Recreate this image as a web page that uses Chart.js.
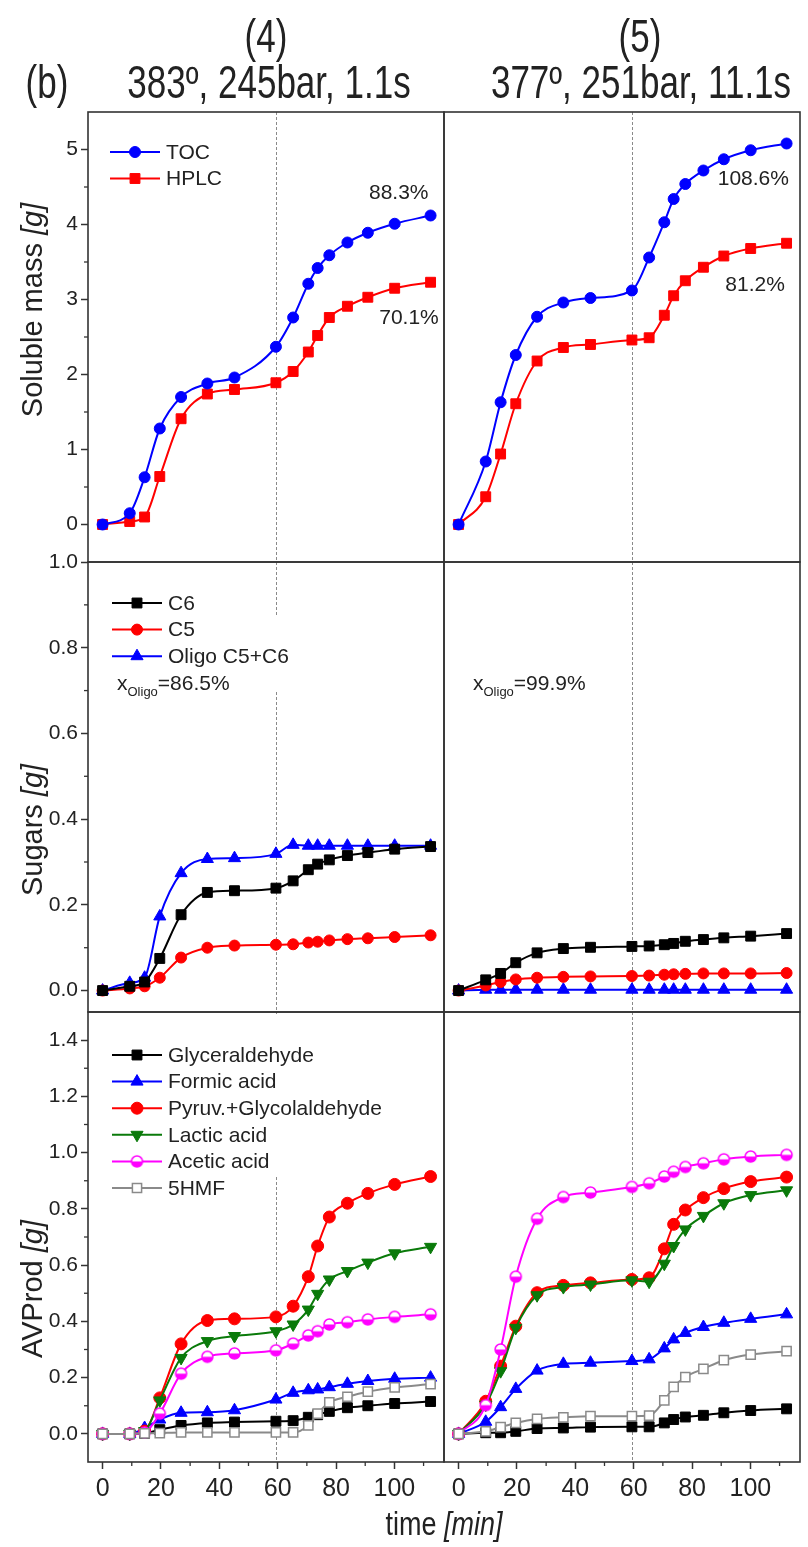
<!DOCTYPE html>
<html><head><meta charset="utf-8">
<script src="https://cdn.jsdelivr.net/npm/chart.js@4.4.1/dist/chart.umd.min.js"></script>
<style>html,body{margin:0;padding:0;background:#fff;}#wrap{width:808px;height:1547px;position:relative;}canvas{display:block;}</style>
</head><body><div id="wrap"><canvas id="c" width="808" height="1547"></canvas></div>
<script>
// ---------------- DATA ----------------
const times = [0, 9.3, 14.4, 19.6, 26.9, 35.9, 45.2, 59.4, 65.3, 70.5, 73.7, 77.7, 83.9, 90.9, 100.1, 112.4];
const dashTime = 59.5;
const panelTitles = ['(4)', '(5)'];
const panelConditions = ['383º, 245bar, 1.1s', '377º, 251bar, 11.1s'];
const xTicks = [0, 20, 40, 60, 80, 100];
const massTicks = [0, 1, 2, 3, 4, 5];
const sugarTicks = [0, 0.2, 0.4, 0.6, 0.8, 1.0];
const prodTicks = [0, 0.2, 0.4, 0.6, 0.8, 1.0, 1.2, 1.4];

// Soluble mass [g]
const tocMass4  = [0, 0.15, 0.63, 1.28, 1.70, 1.88, 1.96, 2.37, 2.76, 3.21, 3.42, 3.59, 3.76, 3.89, 4.01, 4.12];
const hplcMass4 = [0, 0.04, 0.10, 0.64, 1.41, 1.74, 1.80, 1.89, 2.04, 2.30, 2.52, 2.76, 2.91, 3.03, 3.15, 3.23];
const tocMass5  = [0, 0.84, 1.63, 2.26, 2.77, 2.96, 3.02, 3.12, 3.56, 4.03, 4.34, 4.54, 4.72, 4.87, 4.99, 5.08];
const hplcMass5 = [0, 0.37, 0.94, 1.61, 2.18, 2.36, 2.40, 2.46, 2.49, 2.79, 3.05, 3.25, 3.43, 3.58, 3.68, 3.75];
const massLabels4 = ['88.3%', '70.1%'];
const massLabels5 = ['108.6%', '81.2%'];

// Sugars [g]
const c6Sug4    = [0, 0.010, 0.020, 0.075, 0.177, 0.229, 0.233, 0.239, 0.256, 0.282, 0.295, 0.305, 0.315, 0.322, 0.330, 0.336];
const c5Sug4    = [0, 0.005, 0.010, 0.030, 0.077, 0.100, 0.105, 0.107, 0.108, 0.112, 0.114, 0.117, 0.120, 0.122, 0.125, 0.129];
const oligoSug4 = [0, 0.018, 0.030, 0.173, 0.274, 0.307, 0.309, 0.319, 0.340, 0.338, 0.338, 0.338, 0.338, 0.338, 0.338, 0.338];
const c6Sug5    = [0, 0.025, 0.040, 0.065, 0.088, 0.098, 0.101, 0.103, 0.104, 0.107, 0.110, 0.115, 0.119, 0.123, 0.127, 0.133];
const c5Sug5    = [0, 0.012, 0.020, 0.026, 0.030, 0.032, 0.033, 0.034, 0.035, 0.037, 0.038, 0.039, 0.040, 0.040, 0.040, 0.041];
const oligoSug5 = [0, 0.002, 0.002, 0.002, 0.002, 0.002, 0.002, 0.002, 0.002, 0.002, 0.002, 0.002, 0.002, 0.002, 0.002, 0.002];
const xOligo = ['86.5%', '99.9%'];

// AVProd [g]
const glyc4   = [0, 0, 0.002, 0.015, 0.030, 0.039, 0.042, 0.045, 0.047, 0.059, 0.068, 0.080, 0.093, 0.100, 0.108, 0.115];
const formic4 = [0, 0, 0.021, 0.051, 0.075, 0.077, 0.084, 0.122, 0.146, 0.155, 0.158, 0.166, 0.178, 0.188, 0.196, 0.200];
const pyruv4  = [0, 0, 0.010, 0.128, 0.320, 0.403, 0.409, 0.416, 0.454, 0.559, 0.668, 0.771, 0.820, 0.855, 0.887, 0.915];
const lactic4 = [0, 0, 0.010, 0.119, 0.270, 0.330, 0.348, 0.365, 0.389, 0.442, 0.498, 0.549, 0.579, 0.609, 0.642, 0.665];
const acetic4 = [0, 0, 0.005, 0.072, 0.214, 0.274, 0.286, 0.297, 0.321, 0.350, 0.365, 0.389, 0.397, 0.407, 0.416, 0.425];
const hmf4    = [0, 0, 0.002, 0.003, 0.005, 0.005, 0.005, 0.005, 0.005, 0.030, 0.072, 0.112, 0.132, 0.150, 0.165, 0.177];
const glyc5   = [0, 0.004, 0.004, 0.009, 0.019, 0.021, 0.024, 0.025, 0.025, 0.039, 0.051, 0.060, 0.066, 0.075, 0.083, 0.089];
const formic5 = [0, 0.043, 0.095, 0.160, 0.225, 0.249, 0.253, 0.259, 0.265, 0.304, 0.336, 0.359, 0.380, 0.395, 0.409, 0.425];
const pyruv5  = [0, 0.116, 0.241, 0.383, 0.502, 0.528, 0.537, 0.549, 0.555, 0.658, 0.745, 0.796, 0.840, 0.872, 0.897, 0.913];
const lactic5 = [0, 0.104, 0.223, 0.377, 0.493, 0.522, 0.531, 0.546, 0.541, 0.605, 0.668, 0.727, 0.775, 0.820, 0.849, 0.866];
const acetic5 = [0, 0.102, 0.300, 0.559, 0.765, 0.842, 0.858, 0.878, 0.891, 0.915, 0.932, 0.949, 0.962, 0.976, 0.986, 0.992];
const hmf5    = [0, 0.009, 0.024, 0.039, 0.053, 0.059, 0.063, 0.063, 0.065, 0.119, 0.167, 0.202, 0.231, 0.262, 0.282, 0.294];

// ---------------- STYLES ----------------
const FONT = "'Liberation Sans', Arial, sans-serif";
const COL = {blue:'#0000ff', red:'#ff0000', black:'#000000', green:'#0a7a0a', magenta:'#ff00ff', grey:'#8a8a8a', axis:'#333333'};

function halfCircle(color){
  const c = document.createElement('canvas'); c.width = 15; c.height = 15;
  const g = c.getContext('2d');
  g.beginPath(); g.arc(7.5,7.5,5.5,0,2*Math.PI); g.fillStyle='#fff'; g.fill();
  g.beginPath(); g.arc(7.5,7.5,5.5,0,Math.PI); g.closePath(); g.fillStyle=color; g.fill();
  g.beginPath(); g.arc(7.5,7.5,5.5,0,2*Math.PI); g.strokeStyle=color; g.lineWidth=1.5; g.stroke();
  return c;
}
const aceticMarker = halfCircle(COL.magenta);

const ST = {
  toc:    {c:COL.blue,    style:'circle',   r:5.5},
  hplc:   {c:COL.red,     style:'rect',     r:7},
  c6:     {c:COL.black,   style:'rect',     r:7},
  c5:     {c:COL.red,     style:'circle',   r:5.5},
  oligo:  {c:COL.blue,    style:'triangle', r:7},
  glyc:   {c:COL.black,   style:'rect',     r:7},
  formic: {c:COL.blue,    style:'triangle', r:7},
  pyruv:  {c:COL.red,     style:'circle',   r:6},
  lactic: {c:COL.green,   style:'triangle', r:7, rot:180},
  acetic: {c:COL.magenta, style:aceticMarker, r:6},
  hmf:    {c:COL.grey,    style:'rect',     r:6.5, fill:'#ffffff'}
};

function series(vals){ return times.map((t,i)=>({x:t, y:vals[i]})); }
function ds(label, vals, key, xid, yid){
  const s = ST[key];
  return {
    label, data: series(vals), xAxisID: xid, yAxisID: yid,
    borderColor: s.c, borderWidth: 2, cubicInterpolationMode: 'monotone',
    pointStyle: s.style, pointRadius: s.r, pointRotation: s.rot || 0,
    pointBackgroundColor: s.fill || s.c, pointBorderColor: s.c, pointBorderWidth: s.fill ? 1.5 : 1,
    fill: false, clip: false
  };
}

const datasets = [
  ds('TOC', tocMass4, 'toc', 'x4', 'yMass'),
  ds('HPLC', hplcMass4, 'hplc', 'x4', 'yMass'),
  ds('TOC', tocMass5, 'toc', 'x5', 'yMass'),
  ds('HPLC', hplcMass5, 'hplc', 'x5', 'yMass'),
  ds('C6', c6Sug4, 'c6', 'x4', 'ySug'),
  ds('C5', c5Sug4, 'c5', 'x4', 'ySug'),
  ds('Oligo C5+C6', oligoSug4, 'oligo', 'x4', 'ySug'),
  ds('C6', c6Sug5, 'c6', 'x5', 'ySug'),
  ds('C5', c5Sug5, 'c5', 'x5', 'ySug'),
  ds('Oligo C5+C6', oligoSug5, 'oligo', 'x5', 'ySug'),
  ds('5HMF', hmf4, 'hmf', 'x4', 'yProd'),
  ds('Acetic acid', acetic4, 'acetic', 'x4', 'yProd'),
  ds('Lactic acid', lactic4, 'lactic', 'x4', 'yProd'),
  ds('Pyruv.+Glycolaldehyde', pyruv4, 'pyruv', 'x4', 'yProd'),
  ds('Formic acid', formic4, 'formic', 'x4', 'yProd'),
  ds('Glyceraldehyde', glyc4, 'glyc', 'x4', 'yProd'),
  ds('5HMF', hmf5, 'hmf', 'x5', 'yProd'),
  ds('Acetic acid', acetic5, 'acetic', 'x5', 'yProd'),
  ds('Lactic acid', lactic5, 'lactic', 'x5', 'yProd'),
  ds('Pyruv.+Glycolaldehyde', pyruv5, 'pyruv', 'x5', 'yProd'),
  ds('Formic acid', formic5, 'formic', 'x5', 'yProd'),
  ds('Glyceraldehyde', glyc5, 'glyc', 'x5', 'yProd')
];

// ---------------- SCALES ----------------
function xScale(weight){
  return {
    type:'linear', position:'bottom', stack:'cols', weight, min:-5, max:117,
    afterBuildTicks: s => { s.ticks = xTicks.map(v=>({value:v})); },
    afterFit: s => { s.height = 85; s.paddingLeft = 0; s.paddingRight = 0; },
    grid: {display:true, drawOnChartArea:false, drawTicks:true, tickLength:7, tickColor:COL.axis, tickWidth:1.5, color:COL.axis},
    border: {display:false},
    ticks: {display:true, autoSkip:false, padding:5, color:'#222', font:{family:FONT, size:25}, maxRotation:0, minRotation:0, callback: v => String(v)}
  };
}
function yScale(weight, min, max, tickArr, dec){
  return {
    type:'linear', position:'left', stack:'rows', weight, min, max,
    afterBuildTicks: s => { s.ticks = tickArr.map(v=>({value:v})); },
    afterFit: s => { s.width = 88; s.paddingTop = 0; s.paddingBottom = 0; },
    grid: {display:true, drawOnChartArea:false, drawTicks:true, tickLength:7, tickColor:COL.axis, tickWidth:1.5, color:COL.axis},
    border: {display:false},
    ticks: {autoSkip:false, padding:3, color:'#222', font:{family:FONT, size:21}, callback: v => v.toFixed(dec)}
  };
}

// ---------------- DECORATION PLUGIN ----------------
function mixedText(ctx, parts, x, y, align){
  let w = 0;
  parts.forEach(p=>{ ctx.font = p.font; p.w = ctx.measureText(p.t).width; w += p.w; });
  let cx = align === 'center' ? x - w/2 : (align === 'right' ? x - w : x);
  parts.forEach(p=>{ ctx.font = p.font; ctx.textAlign='left'; ctx.fillText(p.t, cx, y + (p.dy||0)); cx += p.w; });
}
function tallText(ctx, parts, x, y, sy){
  ctx.save(); ctx.translate(x, y); ctx.scale(1, sy);
  mixedText(ctx, parts, 0, 0, 'center');
  ctx.restore();
}
function drawMarker(ctx, key, x, y){
  const s = ST[key];
  ctx.save(); ctx.translate(x, y);
  if (s.style instanceof HTMLCanvasElement){ ctx.drawImage(s.style, -s.style.width/2, -s.style.height/2); ctx.restore(); return; }
  ctx.fillStyle = s.fill || s.c; ctx.strokeStyle = s.c; ctx.lineWidth = s.fill ? 1.5 : 1;
  ctx.beginPath();
  if (s.style === 'circle') ctx.arc(0,0,s.r,0,2*Math.PI);
  else if (s.style === 'rect'){ const h = s.r*Math.SQRT1_2; ctx.rect(-h,-h,2*h,2*h); }
  else { ctx.rotate((s.rot||0)*Math.PI/180); for (let i=0;i<3;i++){ const a = i*2*Math.PI/3; const px = Math.sin(a)*s.r, py = -Math.cos(a)*s.r; i?ctx.lineTo(px,py):ctx.moveTo(px,py);} ctx.closePath(); }
  ctx.fill(); ctx.stroke(); ctx.restore();
}
function legend(ctx, entries, x0, y0, dy){
  entries.forEach((e,i)=>{
    const y = y0 + i*dy;
    ctx.save(); ctx.strokeStyle = ST[e.k].c; ctx.lineWidth = 2;
    ctx.beginPath(); ctx.moveTo(x0, y); ctx.lineTo(x0+50, y); ctx.stroke(); ctx.restore();
    drawMarker(ctx, e.k, x0+25, y);
    ctx.fillStyle = '#222'; ctx.font = '21px ' + FONT; ctx.textAlign='left'; ctx.textBaseline='middle';
    ctx.fillText(e.t, x0+56, y+1);
  });
}

const decor = {
  id:'decor',
  beforeDatasetsDraw(chart){
    const ctx = chart.ctx; const S = chart.scales;
    ctx.save();
    ctx.strokeStyle = '#8a8a8a'; ctx.lineWidth = 1; ctx.setLineDash([3,2]);
    ['x4','x5'].forEach(xk=>{
      const px = Math.round(S[xk].getPixelForValue(dashTime)) + 0.5;
      ctx.beginPath(); ctx.moveTo(px, chart.chartArea.top); ctx.lineTo(px, chart.chartArea.bottom); ctx.stroke();
    });
    ctx.setLineDash([]);
    ctx.fillStyle = '#fff';
    ctx.fillRect(S.x4.left+18, 617, 190, 73);
    ctx.fillRect(S.x4.left+18, S.yProd.top+2, 290, 1177 - S.yProd.top - 2);
    ctx.restore();
  },
  afterDatasetsDraw(chart){
    const ctx = chart.ctx; const S = chart.scales; const ca = chart.chartArea;
    ctx.save();
    ctx.strokeStyle = COL.axis; ctx.lineWidth = 1.6;
    ['x4','x5'].forEach(xk=>['yMass','ySug','yProd'].forEach(yk=>{
      ctx.strokeRect(S[xk].left, S[yk].top, S[xk].right - S[xk].left, S[yk].bottom - S[yk].top);
    }));
    ctx.lineWidth = 1.3;
    const minorY = {yMass:[0.5,1.5,2.5,3.5,4.5], ySug:[0.1,0.3,0.5,0.7,0.9], yProd:[0.1,0.3,0.5,0.7,0.9,1.1,1.3]};
    Object.keys(minorY).forEach(yk=> minorY[yk].forEach(v=>{
      const py = S[yk].getPixelForValue(v);
      ctx.beginPath(); ctx.moveTo(ca.left-4, py); ctx.lineTo(ca.left, py); ctx.stroke();
    }));
    ['x4','x5'].forEach(xk=>[10,30,50,70,90,110].forEach(v=>{
      const px = S[xk].getPixelForValue(v);
      ctx.beginPath(); ctx.moveTo(px, ca.bottom); ctx.lineTo(px, ca.bottom+4); ctx.stroke();
    }));

    const lx = S.x4.left + 22;
    legend(ctx, [{k:'toc',t:'TOC'},{k:'hplc',t:'HPLC'}], lx, 152, 26.5);
    legend(ctx, [{k:'c6',t:'C6'},{k:'c5',t:'C5'},{k:'oligo',t:'Oligo C5+C6'}], lx+2, 603, 26.6);
    legend(ctx, [{k:'glyc',t:'Glyceraldehyde'},{k:'formic',t:'Formic acid'},{k:'pyruv',t:'Pyruv.+Glycolaldehyde'},{k:'lactic',t:'Lactic acid'},{k:'acetic',t:'Acetic acid'},{k:'hmf',t:'5HMF'}], lx+2, 1055, 26.6);

    ctx.fillStyle = '#222'; ctx.textBaseline = 'alphabetic';
    [['x4',0],['x5',1]].forEach(([xk,i])=>{
      mixedText(ctx, [{t:'x', font:'21px '+FONT},{t:'Oligo', font:'13px '+FONT, dy:6},{t:'='+xOligo[i], font:'21px '+FONT}], S[xk].left + 29, 690, 'left');
    });

    ctx.font = '21px ' + FONT; ctx.textAlign = 'center'; ctx.textBaseline = 'middle';
    ctx.fillText(massLabels4[0], S.x4.getPixelForValue(101.5), S.yMass.getPixelForValue(4.42));
    ctx.fillText(massLabels4[1], S.x4.getPixelForValue(105), S.yMass.getPixelForValue(2.75));
    ctx.fillText(massLabels5[0], S.x5.getPixelForValue(101), S.yMass.getPixelForValue(4.61));
    ctx.fillText(massLabels5[1], S.x5.getPixelForValue(101.6), S.yMass.getPixelForValue(3.19));

    ctx.textBaseline='alphabetic';
    const tf = '35px ' + FONT;
    tallText(ctx, [{t:panelTitles[0], font:tf}], 266, 52, 1.3);
    tallText(ctx, [{t:panelTitles[1], font:tf}], 640, 52, 1.3);
    tallText(ctx, [{t:panelConditions[0], font:tf}], 269, 98, 1.3);
    tallText(ctx, [{t:panelConditions[1], font:tf}], 641, 98, 1.3);
    tallText(ctx, [{t:'(b)', font:tf}], 47, 98, 1.3);

    const ytitles = [['Soluble mass ', 310], ['Sugars ', 830], ['AVProd ', 1289]];
    ytitles.forEach(([t,cy])=>{
      ctx.save(); ctx.translate(42, cy); ctx.rotate(-Math.PI/2);
      mixedText(ctx, [{t, font:'29px '+FONT},{t:'[g]', font:'italic 29px '+FONT}], 0, 0, 'center');
      ctx.restore();
    });
    tallText(ctx, [{t:'time ', font:'27px '+FONT},{t:'[min]', font:'italic 27px '+FONT}], (S.x4.left+S.x5.right)/2, 1535, 1.25);
    ctx.restore();
  }
};

new Chart(document.getElementById('c'), {
  type:'line',
  data:{datasets},
  options:{
    responsive:false, animation:false, devicePixelRatio:1, events:[],
    layout:{padding:{left:0, top:112, right:1, bottom:0}},
    plugins:{legend:{display:false}, tooltip:{enabled:false}, title:{display:false}},
    scales:{
      x4: xScale(0),
      x5: xScale(1),
      yMass: yScale(3, -0.5, 5.5, massTicks, 0),
      ySug:  yScale(2, -0.05, 1.0, sugarTicks, 1),
      yProd: yScale(1, -0.1, 1.5, prodTicks, 1)
    }
  },
  plugins:[decor]
});
</script>
</body></html>
